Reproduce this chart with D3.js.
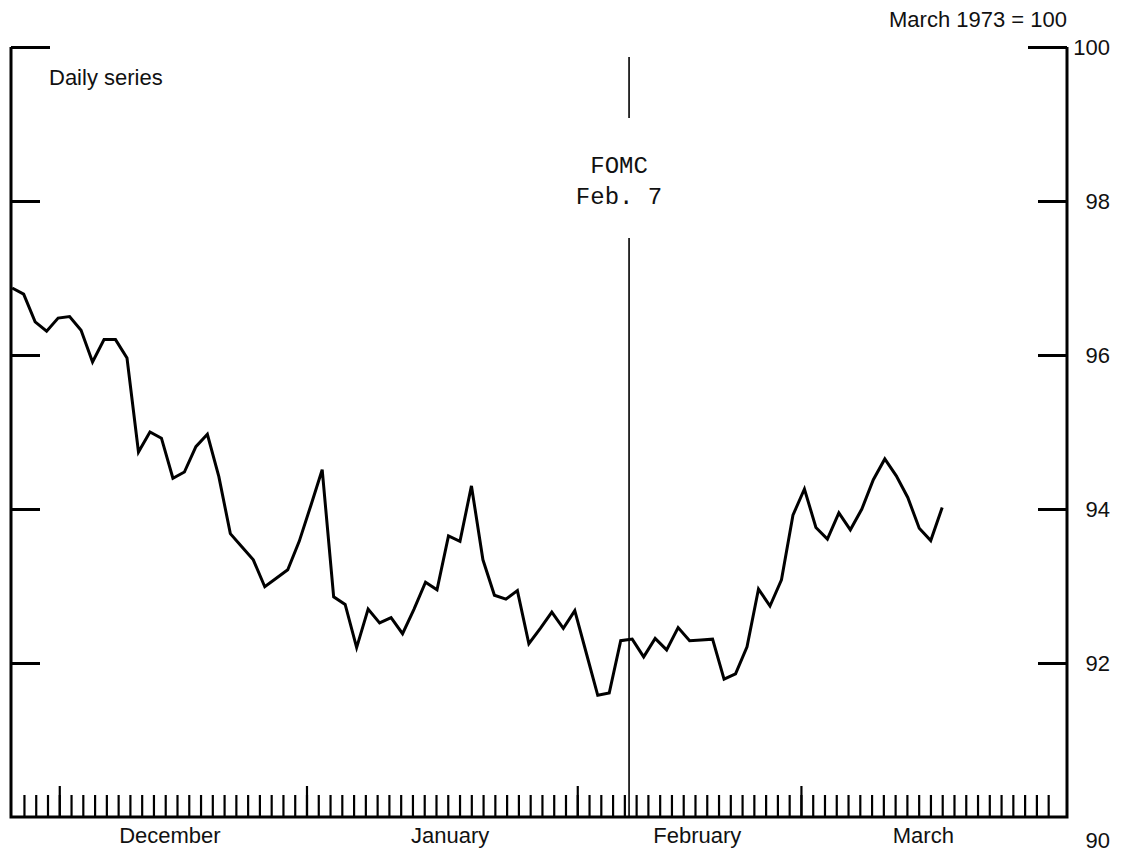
<!DOCTYPE html>
<html lang="en">
<head>
	<meta charset="UTF-8"/>
	<title>Daily series, March 1973 = 100</title>
	<script src="https://d3js.org/d3.v7.min.js"></script>
	<style>
		body { margin: 0; background: #fff; }
		text { font-family: "Liberation Sans", Arial, sans-serif; fill: #111; }
	</style>
</head>
<body>
<script>
	// daily index values (March 1973 = 100), one per business day from late Nov 1972
	var values = [
		96.87, 96.79, 96.43, 96.31, 96.48, 96.50, 96.32, 95.91, 96.20, 96.20,
		95.96, 94.74, 95.00, 94.92, 94.40, 94.48, 94.81, 94.97, 94.42, 93.68,
		93.51, 93.34, 92.99, 93.10, 93.21, 93.58, 94.04, 94.51, 92.86, 92.76,
		92.20, 92.70, 92.52, 92.59, 92.38, 92.70, 93.05, 92.95, 93.65, 93.58,
		94.30, 93.34, 92.88, 92.83, 92.94, 92.25, 92.45, 92.66, 92.45, 92.68,
		92.13, 91.58, 91.61, 92.29, 92.31, 92.08, 92.32, 92.17, 92.46, 92.29,
		92.30, 92.31, 91.79, 91.86, 92.21, 92.96, 92.74, 93.08, 93.92, 94.26,
		93.76, 93.61, 93.95, 93.73, 94.00, 94.38, 94.65, 94.43, 94.15, 93.75,
		93.59, 94.02
	];

	// calendar (business day ticks along the bottom)
	var dayTicks = d3.range(0, 88);
	var monthStarts = [3, 24, 47, 66];
	var monthNames = ["December", "January", "February", "March"];
	var monthMid = [12.4, 36.2, 57.2, 76.4];
	var seriesDays = [-1, 78];     // first and last day covered by the series
	var fomcDay = 51.4;
	var fomcLabel = ["FOMC", "Feb. 7"];

	var yTicks = [90, 92, 94, 96, 98, 100];

	var w = 1127;
	var h = 857;
	// plot frame (note: "top" is reserved on window, so use pad* names)
	var padL = 11, padR = 1067, padT = 47, padB = 817;

	var svg = d3.select("body")
				.append("svg")
				.attr("width", w)
				.attr("height", h);

	// scales
	var xDay = d3.scaleLinear()
				.domain([-1.1, 88.6])
				.range([padL, padR]);

	var xObs = d3.scaleLinear()
				.domain([0, values.length - 1])
				.range([xDay(seriesDays[0]), xDay(seriesDays[1])]);

	var yScale = d3.scaleLinear()
				.domain([90, 100])
				.range([padB, padT]);

	// frame: left, bottom, right
	svg.append("path")
		.attr("d", "M" + padL + "," + padT + "V" + padB + "H" + padR + "V" + padT)
		.attr("fill", "none")
		.attr("stroke", "#000")
		.attr("stroke-width", 3);

	// daily ticks pointing up from the bottom line
	var dayAxis = d3.axisTop(xDay)
				.tickValues(dayTicks)
				.tickSize(22)
				.tickSizeOuter(0)
				.tickFormat("");

	var gDay = svg.append("g")
		.attr("transform", "translate(0," + padB + ")")
		.call(dayAxis);
	gDay.select(".domain").remove();
	gDay.selectAll("line").attr("stroke", "#000").attr("stroke-width", 2.2);

	// longer ticks at the start of each month
	var monthAxis = d3.axisTop(xDay)
				.tickValues(monthStarts)
				.tickSize(31)
				.tickFormat("");

	var gMonth = svg.append("g")
		.attr("transform", "translate(0," + padB + ")")
		.call(monthAxis);
	gMonth.select(".domain").remove();
	gMonth.selectAll("line").attr("stroke", "#000").attr("stroke-width", 2.2);

	// month names
	svg.selectAll(".month")
		.data(monthNames)
		.enter()
		.append("text")
		.attr("class", "month")
		.attr("x", function(d, i) { return xDay(monthMid[i]); })
		.attr("y", padB + 26)
		.attr("text-anchor", "middle")
		.attr("font-size", 22)
		.text(function(d) { return d; });

	// right axis: ticks inward, labels outside
	var yAxis = d3.axisRight(yScale)
				.tickValues(yTicks)
				.tickSize(-29)
				.tickPadding(0)
				.tickFormat(d3.format("d"));

	var gy = svg.append("g")
		.attr("transform", "translate(" + padR + ",0)")
		.call(yAxis);
	gy.select(".domain").remove();
	gy.selectAll("line")
		.attr("stroke", "#000")
		.attr("stroke-width", 3)
		.attr("x2", function(d) { return d == 100 ? -39 : (d == 90 ? 0 : -29); });
	gy.selectAll("text")
		.attr("x", 43)
		.attr("text-anchor", "end")
		.attr("font-size", 22)
		.attr("font-family", "Liberation Sans, Arial, sans-serif")
		.attr("fill", "#111")
		.attr("dy", function(d) { return d == 90 ? "1.4em" : "0.35em"; });

	// left axis: ticks only
	var yAxisLeft = d3.axisRight(yScale)
				.tickValues(yTicks.filter(function(d) { return d > 90; }))
				.tickSize(29)
				.tickFormat("");

	var gyl = svg.append("g")
		.attr("transform", "translate(" + padL + ",0)")
		.call(yAxisLeft);
	gyl.select(".domain").remove();
	gyl.selectAll("line")
		.attr("stroke", "#000")
		.attr("stroke-width", 3)
		.attr("x2", function(d) { return d == 100 ? 39 : 29; });

	// FOMC marker line, broken around its label
	var fx = xDay(fomcDay);
	svg.append("line")
		.attr("x1", fx).attr("x2", fx)
		.attr("y1", 57).attr("y2", 118)
		.attr("stroke", "#000")
		.attr("stroke-width", 1.6);
	svg.append("line")
		.attr("x1", fx).attr("x2", fx)
		.attr("y1", 238).attr("y2", padB)
		.attr("stroke", "#000")
		.attr("stroke-width", 1.6);

	svg.selectAll(".fomc")
		.data(fomcLabel)
		.enter()
		.append("text")
		.attr("class", "fomc")
		.attr("x", fx - 10)
		.attr("y", function(d, i) { return 173 + i * 31; })
		.attr("text-anchor", "middle")
		.attr("font-size", 24)
		.style("font-family", "'Liberation Mono', 'DejaVu Sans Mono', monospace")
		.text(function(d) { return d; });

	// the daily series
	var line = d3.line()
				.x(function(d, i) { return xObs(i); })
				.y(function(d) { return yScale(d); });

	svg.append("path")
		.datum(values)
		.attr("d", line)
		.attr("fill", "none")
		.attr("stroke", "#000")
		.attr("stroke-width", 3)
		.attr("stroke-linejoin", "miter");

	// titles
	svg.append("text")
		.attr("x", 49)
		.attr("y", 85)
		.attr("font-size", 22)
		.text("Daily series");

	svg.append("text")
		.attr("x", padR)
		.attr("y", 27)
		.attr("text-anchor", "end")
		.attr("font-size", 22)
		.text("March 1973 = 100");
</script>
</body>
</html>
